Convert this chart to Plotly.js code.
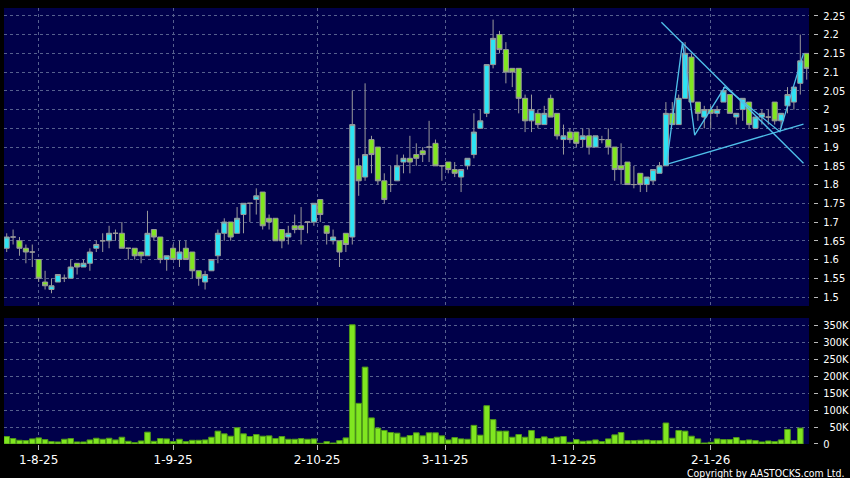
<!DOCTYPE html>
<html>
<head>
<meta charset="utf-8">
<script src="https://cdn.plot.ly/plotly-3.0.1.min.js"></script>
<style>
html,body{margin:0;padding:0;background:#000;}
#chart{width:850px;height:478px;}
</style>
</head>
<body>
<div id="chart"></div>
<script>
// ---- Data ----
const opens = [1.63,1.66,1.65,1.63,1.62,1.60,1.54,1.52,1.54,1.55,
1.55,1.59,1.58,1.59,1.63,1.65,1.65,1.67,1.67,1.63,
1.63,1.62,1.61,1.68,1.66,1.60,1.63,1.60,1.63,1.62,
1.57,1.54,1.57,1.61,1.67,1.70,1.67,1.72,1.75,1.76,
1.78,1.71,1.71,1.68,1.66,1.69,1.69,1.70,1.70,1.76,
1.69,1.65,1.65,1.67,1.66,1.85,1.82,1.92,1.90,1.81,
1.80,1.81,1.86,1.87,1.88,1.89,1.90,1.91,1.85,1.86,
1.84,1.82,1.85,1.88,1.95,1.99,2.12,2.20,2.16,2.11,
2.11,2.03,1.97,1.99,1.96,2.03,1.99,1.92,1.94,1.94,
1.92,1.93,1.90,1.92,1.92,1.90,1.85,1.86,1.80,1.83,
1.80,1.81,1.83,1.85,1.99,1.96,2.03,2.14,2.02,1.98,
2.00,1.99,2.02,2.04,1.98,2.00,2.02,1.95,1.98,1.98,
2.02,1.97,2.01,2.02,2.07,2.15];
const highs = [1.67,1.68,1.66,1.64,1.64,1.60,1.57,1.55,1.56,1.56,
1.60,1.59,1.60,1.63,1.65,1.67,1.69,1.68,1.70,1.63,
1.63,1.62,1.73,1.68,1.66,1.61,1.64,1.65,1.65,1.62,
1.57,1.57,1.60,1.68,1.71,1.70,1.74,1.75,1.75,1.79,
1.78,1.72,1.71,1.68,1.69,1.72,1.74,1.70,1.75,1.76,
1.69,1.68,1.65,1.67,2.05,1.87,2.07,1.93,1.90,1.83,
1.85,1.88,1.88,1.93,1.91,1.90,1.97,1.92,1.85,1.86,
1.86,1.84,1.87,1.99,2.00,2.12,2.24,2.21,2.18,2.11,
2.11,2.04,2.04,2.00,2.01,2.04,1.99,1.96,1.95,1.94,
1.95,1.95,1.93,1.93,1.95,1.90,1.91,1.86,1.85,1.83,
1.82,1.84,1.86,2.02,2.02,2.04,2.18,2.15,2.02,2.01,
2.01,2.01,2.06,2.04,1.99,2.03,2.02,1.98,2.00,2.00,
2.02,1.99,2.06,2.06,2.20,2.15];
const lows = [1.62,1.64,1.61,1.59,1.58,1.54,1.52,1.51,1.54,1.54,
1.55,1.56,1.58,1.57,1.62,1.62,1.63,1.65,1.63,1.60,
1.60,1.59,1.61,1.65,1.59,1.57,1.60,1.58,1.60,1.55,
1.53,1.52,1.57,1.59,1.65,1.65,1.67,1.67,1.70,1.72,
1.68,1.68,1.65,1.63,1.64,1.67,1.64,1.67,1.69,1.70,
1.64,1.64,1.58,1.62,1.64,1.77,1.81,1.83,1.80,1.75,
1.78,1.81,1.83,1.83,1.85,1.86,1.86,1.85,1.81,1.83,
1.82,1.78,1.84,1.87,1.95,1.98,2.11,2.15,2.07,2.06,
1.99,1.94,1.94,1.95,1.96,1.98,1.92,1.88,1.91,1.90,
1.90,1.88,1.90,1.91,1.88,1.81,1.80,1.80,1.79,1.78,
1.78,1.80,1.83,1.85,1.96,1.96,2.03,2.02,1.97,1.95,
1.95,1.98,2.02,1.99,1.96,1.97,1.95,1.95,1.96,1.96,
1.96,1.95,1.99,2.00,2.04,2.08];
const closes = [1.66,1.66,1.63,1.62,1.62,1.55,1.53,1.53,1.56,1.55,
1.58,1.58,1.59,1.62,1.64,1.65,1.67,1.67,1.63,1.63,
1.61,1.61,1.67,1.66,1.60,1.61,1.60,1.62,1.60,1.57,
1.55,1.56,1.60,1.67,1.70,1.66,1.71,1.75,1.75,1.77,
1.69,1.70,1.65,1.65,1.67,1.68,1.68,1.70,1.75,1.72,
1.67,1.66,1.62,1.64,1.96,1.81,1.88,1.88,1.81,1.76,
1.80,1.85,1.87,1.86,1.87,1.88,1.90,1.85,1.85,1.84,
1.83,1.84,1.87,1.94,1.97,2.12,2.19,2.16,2.10,2.10,
2.03,1.97,2.00,1.96,1.99,1.98,1.93,1.93,1.92,1.91,
1.93,1.90,1.93,1.92,1.90,1.84,1.84,1.80,1.80,1.80,
1.82,1.84,1.85,1.99,1.96,2.03,2.15,2.02,1.99,2.00,
1.99,2.00,2.05,1.99,1.99,2.03,1.96,1.98,1.99,1.98,
1.97,1.99,2.04,2.06,2.13,2.11];
const volumes = [22000,16000,11000,10000,15000,18000,13000,7000,6000,14000,
16000,6000,6000,12000,17000,14000,17000,12000,20000,8000,
4000,9000,35000,8000,16000,15000,7000,14000,7000,11000,
11000,12000,20000,38000,30000,23000,48000,30000,22000,28000,
23000,24000,16000,22000,14000,14000,16000,14000,15000,2000,
7000,3000,10000,18000,352000,120000,227000,77000,47000,40000,
34000,32000,20000,25000,33000,24000,33000,33000,24000,12000,
19000,15000,14000,55000,26000,113000,72000,38000,38000,20000,
28000,20000,40000,16000,21000,16000,20000,22000,5000,13000,
8000,9000,12000,7000,15000,27000,34000,10000,10000,11000,
12000,10000,10000,62000,17000,40000,38000,23000,15000,3000,
5000,15000,13000,13000,19000,10000,12000,10000,6000,9000,
7000,12000,43000,10000,47000,null];
const tickIndex = [5, 26, 48.5, 68.5, 88.5, 110];
const tickLabels = ["1-8-25","1-9-25","2-10-25","3-11-25","1-12-25","2-1-26"];
const priceTicks = [1.5,1.55,1.6,1.65,1.7,1.75,1.8,1.85,1.9,1.95,2,2.05,2.1,2.15,2.2,2.25];
const volTicks = [0,50000,100000,150000,200000,250000,300000,350000];
const volTickLabels = ["0","\u200750K","100K","150K","200K","250K","300K","350K"];
// user-drawn lines on the chart
const trendDownX = [102.3, 124.5], trendDownY = [2.233, 1.857];
const trendUpX = [103.1, 124.5], trendUpY = [1.854, 1.961];
const zigX = [103.1, 105.6, 107.5, 112.2, 120.8, 124.5];
const zigY = [1.854, 2.180, 1.932, 2.060, 1.941, 2.150];

const idx = closes.map((_, i) => i);

const NAVY = '#00004a';
const GRID = '#56608e';
const CYAN = '#2de4f4';
const GREEN = '#80e620';
const WICK = '#9a9a9a';
const LINE = '#4fc0ea';
const FONT_C = 'DejaVu Sans Condensed, DejaVu Sans, sans-serif';
const FONT = 'DejaVu Sans, sans-serif';

const traces = [
  {type:'candlestick', x: idx, open: opens, high: highs, low: lows, close: closes,
   xaxis:'x', yaxis:'y',
   increasing:{fillcolor: CYAN, line:{color: WICK, width:1}},
   decreasing:{fillcolor: GREEN, line:{color: WICK, width:1}},
   whiskerwidth: 0, hoverinfo:'skip'},
  {type:'bar', x: idx, y: volumes, xaxis:'x', yaxis:'y2',
   marker:{color: GREEN, line:{color:'#4f9a18', width:1}}, hoverinfo:'skip'},
  {type:'scatter', mode:'lines', x: trendDownX, y: trendDownY, xaxis:'x', yaxis:'y',
   line:{color: LINE, width:1.3}, hoverinfo:'skip'},
  {type:'scatter', mode:'lines', x: trendUpX, y: trendUpY, xaxis:'x', yaxis:'y',
   line:{color: LINE, width:1.3}, hoverinfo:'skip'},
  {type:'scatter', mode:'lines', x: zigX, y: zigY, xaxis:'x', yaxis:'y',
   line:{color: LINE, width:1.3}, hoverinfo:'skip'}
];

const layout = {
  width: 850, height: 478,
  margin: {l:4, r:37, t:8, b:34},
  paper_bgcolor: '#000000',
  plot_bgcolor: NAVY,
  showlegend: false,
  boxgap: 0.12,
  boxgroupgap: 0.1,
  bargap: 0.12,
  font: {family: FONT, color:'#ffffff', size: 12},
  xaxis: {
    domain: [0, 805/809],
    anchor: 'y2',
    range: [-0.42, 125.36],
    rangeslider: {visible:false},
    tickvals: tickIndex, ticktext: tickLabels,
    ticks: 'outside', ticklen: 5, tickcolor: '#bbbbbb',
    showgrid: true, gridcolor: GRID, griddash: '3px,3px', gridwidth: 1,
    zeroline: false, showline: false,
    tickfont: {family: FONT, size: 12, color:'#ffffff'}
  },
  yaxis: {
    domain: [0.3165, 1],
    anchor: 'free', position: 1, side: 'right',
    range: [1.476, 2.271],
    tickvals: priceTicks,
    ticks: 'outside', ticklen: 4, tickcolor: '#bbbbbb',
    ticklabelstandoff: 3,
    showgrid: true, gridcolor: GRID, griddash: '3px,3px', gridwidth: 1,
    zeroline: false, showline: false,
    tickfont: {family: FONT_C, size: 11, color:'#ffffff'}
  },
  yaxis2: {
    domain: [0, 0.289],
    anchor: 'free', position: 1, side: 'right',
    range: [0, 372000],
    tickvals: volTicks, ticktext: volTickLabels,
    ticks: 'outside', ticklen: 4, tickcolor: '#bbbbbb',
    ticklabelstandoff: 3,
    showgrid: true, gridcolor: GRID, griddash: '3px,3px', gridwidth: 1,
    zeroline: false, showline: false,
    tickfont: {family: FONT_C, size: 11, color:'#ffffff'}
  },
  annotations: [{
    text: 'Copyright by AASTOCKS.com Ltd.',
    xref: 'paper', yref: 'paper', x: 1, xshift: 33, xanchor: 'right',
    y: -0.066, yanchor: 'middle', showarrow: false,
    font: {family: FONT_C, size: 10.4, color:'#ffffff'}
  }]
};

Plotly.newPlot('chart', traces, layout, {staticPlot: true, displayModeBar: false});
</script>
</body>
</html>
